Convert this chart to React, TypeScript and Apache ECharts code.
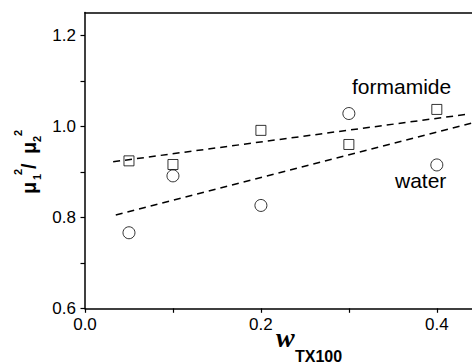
import React, { useEffect, useRef } from "react";
import * as echarts from "echarts";

const xValues = [0.05, 0.1, 0.2, 0.3, 0.4];
const formamide = [0.924, 0.916, 0.991, 0.96, 1.037];
const water = [0.766, 0.891, 0.826, 1.028, 0.915];
const formamideFit = [
  [0.032, 0.922],
  [0.433, 1.026],
];
const waterFit = [
  [0.035, 0.805],
  [0.44, 1.007],
];
const yTicks = [0.6, 0.7, 0.8, 0.9, 1.0, 1.1, 1.2];
const yLabels = [0.6, 0.8, 1.0, 1.2];
const xTicks = [0, 0.1, 0.2, 0.3, 0.4];
const xLabels = [0, 0.2, 0.4];

const SANS = "'Liberation Sans', Arial, sans-serif";
const SERIF = "'Liberation Serif', 'Times New Roman', serif";

export default function App() {
  const ref = useRef<HTMLDivElement>(null);
  useEffect(() => {
    if (!ref.current) return;
    const chart = echarts.init(ref.current, null, { renderer: "svg" });
    const axisLine = { show: true, lineStyle: { color: "#000", width: 1.5 } };
    const fmt = (v: number) => v.toFixed(1);
    const muText = (text: string, x: number, base: number, size: number) => ({
      type: "text",
      x,
      y: base - 0.35 * size,
      style: {
        text,
        font: `bold ${size}px ${SANS}`,
        fill: "#000",
        textAlign: "left",
        textVerticalAlign: "middle",
      },
    });
    chart.setOption({
      animation: false,
      backgroundColor: "#fff",
      grid: { left: 85, right: 0, top: 12.5, bottom: 55.7 },
      xAxis: [
        {
          type: "value",
          min: 0,
          max: 0.44,
          position: "bottom",
          axisLine,
          splitLine: { show: false },
          axisTick: {
            show: true,
            customValues: xTicks,
            length: 4.5,
            lineStyle: { color: "#000", width: 1.2 },
          },
          axisLabel: {
            show: true,
            customValues: xLabels,
            formatter: fmt,
            fontFamily: SANS,
            fontSize: 17,
            color: "#000",
            margin: 8,
          },
        },
        {
          type: "value",
          min: 0,
          max: 0.44,
          position: "top",
          axisLine,
          splitLine: { show: false },
          axisTick: { show: false },
          axisLabel: { show: false },
        },
      ],
      yAxis: [
        {
          type: "value",
          min: 0.6,
          max: 1.25,
          position: "left",
          axisLine,
          splitLine: { show: false },
          axisTick: {
            show: true,
            customValues: yTicks,
            length: 4.5,
            lineStyle: { color: "#000", width: 1.2 },
          },
          axisLabel: {
            show: true,
            customValues: yLabels,
            formatter: fmt,
            fontFamily: SANS,
            fontSize: 17,
            color: "#000",
            margin: 9,
          },
        },
      ],
      series: [
        {
          name: "formamide fit",
          type: "line",
          data: formamideFit,
          symbol: "none",
          lineStyle: { color: "#000", width: 1.5, type: [7, 5] },
          z: 1,
        },
        {
          name: "water fit",
          type: "line",
          data: waterFit,
          symbol: "none",
          lineStyle: { color: "#000", width: 1.5, type: [7, 5] },
          z: 1,
        },
        {
          name: "formamide",
          type: "scatter",
          data: xValues.map((x, i) => [x, formamide[i]]),
          symbol: "rect",
          symbolSize: 10,
          itemStyle: { color: "none", borderColor: "#000", borderWidth: 1 },
          z: 2,
        },
        {
          name: "water",
          type: "scatter",
          data: xValues.map((x, i) => [x, water[i]]),
          symbol: "circle",
          symbolSize: 12,
          itemStyle: { color: "none", borderColor: "#000", borderWidth: 1 },
          z: 2,
        },
      ],
      graphic: [
        {
          type: "text",
          x: 352,
          y: 97,
          style: {
            text: "formamide",
            font: `21px ${SANS}`,
            fill: "#000",
            textVerticalAlign: "bottom",
          },
        },
        {
          type: "text",
          x: 395,
          y: 191,
          style: {
            text: "water",
            font: `21px ${SANS}`,
            fill: "#000",
            textVerticalAlign: "bottom",
          },
        },
        {
          type: "text",
          x: 276,
          y: 351,
          style: {
            text: "w",
            font: `italic bold 28px ${SERIF}`,
            fill: "#000",
            textVerticalAlign: "bottom",
          },
        },
        {
          type: "text",
          x: 295,
          y: 364,
          style: {
            text: "TX100",
            font: `bold 16px ${SANS}`,
            fill: "#000",
            textVerticalAlign: "bottom",
          },
        },
        {
          type: "group",
          x: 36,
          y: 194,
          rotation: Math.PI / 2,
          children: [
            muText("μ", 0, 0, 20),
            muText("1", 14, 5, 11),
            muText("2", 19, -14, 11),
            muText("/", 25, 0, 20),
            muText("μ", 40, 0, 20),
            muText("2", 52, 5, 11),
            muText("2", 58, -14, 11),
          ],
        },
      ],
    });
    return () => chart.dispose();
  }, []);
  return (
    <div
      ref={ref}
      style={{ position: "fixed", left: 0, top: 0, width: 472, height: 364 }}
    />
  );
}
